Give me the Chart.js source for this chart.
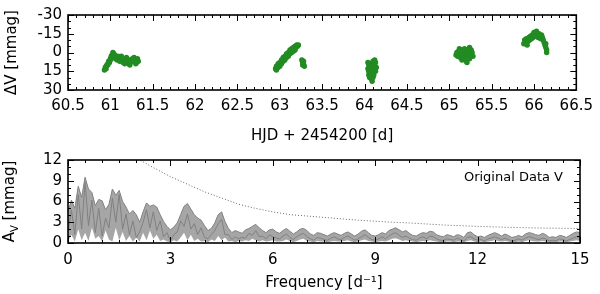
<!DOCTYPE html>
<html>
<head>
<meta charset="utf-8">
<script src="https://cdn.jsdelivr.net/npm/chart.js@4/dist/chart.umd.min.js"></script>
<style>
  body { margin: 0; background: #fff; }
  canvas { display: block; }
</style>
</head>
<body>
<canvas id="lightCurve" width="600" height="145"></canvas>
<canvas id="spectrum" width="600" height="149"></canvas>
<script>
// light curve, one pair of arrays per night (HJD - 2454200, dV in mmag)
const night1Hjd = [60.93,60.94,60.95,60.95,60.96,60.97,60.97,60.98,60.99,61.00,61.00,61.01,61.02,61.02,61.03,61.04,61.05,61.05,61.06,61.07,61.08,61.09,61.10,61.11,61.12,61.13,61.14,61.15,61.16,61.17,61.18,61.19,61.20,61.21,61.22,61.23,61.24,61.25,61.26,61.27,61.28,61.29,61.30,61.31,61.32,61.33];
const night1Dv  = [14,12,13,11,10,9,10,7,8,5,6,3,2,4,0,1,3,2,5,4,6,3,5,7,4,3,6,8,7,9,6,4,5,7,9,10,8,6,5,7,4,6,9,8,5,7];
const night2Hjd = [62.95,62.96,62.96,62.97,62.98,62.98,62.99,63.00,63.00,63.01,63.02,63.02,63.03,63.04,63.04,63.05,63.06,63.06,63.07,63.08,63.08,63.09,63.10,63.10,63.11,63.12,63.12,63.13,63.14,63.14,63.15,63.16,63.16,63.17,63.18,63.18,63.19,63.20,63.21,63.22,63.26,63.27,63.27,63.28,63.28,63.29];
const night2Dv  = [13,11,14,12,9,12,10,8,11,9,6,9,7,4,7,5,3,6,4,1,4,2,0,3,1,-2,1,-1,-3,0,-2,-4,-1,-3,-5,-2,-4,-6,-5,-6,6,8,10,7,9,11];
const night3Hjd = [64.04,64.04,64.05,64.05,64.05,64.06,64.06,64.06,64.07,64.07,64.08,64.08,64.08,64.09,64.09,64.10,64.10,64.10,64.11,64.11,64.12,64.12,64.13,64.13,64.14];
const night3Dv  = [8,13,10,15,18,12,17,20,9,19,14,21,17,11,23,16,7,20,13,18,10,6,15,8,12];
const night4Hjd = [65.08,65.09,65.10,65.11,65.12,65.12,65.13,65.14,65.15,65.15,65.16,65.17,65.18,65.18,65.19,65.20,65.20,65.21,65.21,65.22,65.23,65.24,65.24,65.25,65.26,65.27,65.28];
const night4Dv  = [2,0,3,-1,1,-3,4,-2,2,6,5,0,-3,-1,3,7,-2,1,8,-1,4,-4,5,2,-2,0,3];
const night5Hjd = [65.88,65.89,65.90,65.91,65.92,65.93,65.94,65.95,65.96,65.97,65.98,65.99,66.00,66.01,66.02,66.03,66.04,66.05,66.06,66.07,66.08,66.09,66.10,66.11,66.12,66.13,66.14,66.14,66.15,66.15];
const night5Dv  = [-7,-10,-8,-11,-6,-9,-12,-10,-13,-11,-14,-12,-16,-13,-15,-17,-14,-12,-15,-13,-11,-14,-12,-10,-8,-6,-4,-7,-2,0];

// amplitude spectrum, sampled every 0.1 d^-1 from 0 to 15
const freqStep = 0.1;
const grayHigh = [
  4.5,6.2,5.0,8.2,6.6,9.5,7.8,7.3,5.4,6.3,
  6.1,4.8,5.6,7.8,6.9,7.6,6.0,5.2,4.2,4.7,
  4.1,3.0,4.5,5.8,5.3,5.5,5.2,4.1,3.1,2.4,
  1.9,2.3,2.9,4.1,5.3,5.7,4.9,4.1,3.6,3.3,
  2.5,1.8,2.1,2.9,4.1,4.5,3.1,2.1,1.5,1.8,
  1.6,1.4,1.9,2.1,2.4,2.7,2.2,1.8,1.5,1.9,
  2.0,1.6,1.4,1.8,2.1,1.7,1.3,1.6,2.0,2.1,
  1.8,1.3,1.1,1.5,1.4,1.2,1.0,1.3,1.5,1.3,
  1.1,1.4,1.6,1.3,1.0,1.3,1.7,1.9,1.5,1.1,
  1.0,1.2,1.5,1.3,1.8,2.0,2.2,1.9,1.6,1.8,
  1.4,1.1,1.0,1.3,1.5,1.4,1.7,1.6,1.2,1.0,
  0.9,1.2,1.1,0.9,1.2,1.1,0.8,1.5,1.6,1.2,
  0.9,1.0,0.8,1.1,1.3,1.5,1.3,1.0,1.3,1.1,
  0.8,0.9,1.1,0.9,1.3,1.5,1.4,1.2,1.1,1.4,
  1.2,0.8,0.9,0.8,1.1,1.0,0.8,1.1,1.4,1.6,
  1.5];
const grayLow = [
  0.3,1.2,0.2,2.0,0.4,1.5,0.3,2.2,0.6,1.0,
  0.2,1.8,0.5,0.2,2.2,0.4,1.6,0.3,1.0,0.2,
  0.8,0.2,1.5,0.4,1.8,0.6,1.2,0.3,0.5,0.2,
  0.1,0.4,0.2,0.8,1.5,0.4,1.2,0.3,0.6,0.2,
  0.3,0.1,0.5,0.3,1.0,0.4,0.8,0.2,0.3,0.1,
  0.3,0.2,0.4,0.3,0.6,0.4,0.2,0.4,0.2,0.3,
  0.4,0.2,0.2,0.3,0.5,0.3,0.1,0.3,0.5,0.6,
  0.3,0.2,0.1,0.3,0.2,0.2,0.1,0.2,0.3,0.2,
  0.2,0.3,0.4,0.2,0.1,0.2,0.4,0.5,0.3,0.2,
  0.1,0.2,0.3,0.2,0.4,0.6,0.7,0.5,0.3,0.4,
  0.3,0.2,0.1,0.2,0.3,0.2,0.4,0.3,0.2,0.1,
  0.1,0.2,0.2,0.1,0.2,0.2,0.1,0.3,0.4,0.2,
  0.1,0.2,0.1,0.2,0.3,0.4,0.3,0.2,0.3,0.2,
  0.1,0.1,0.2,0.1,0.3,0.4,0.3,0.2,0.2,0.3,
  0.2,0.1,0.1,0.1,0.2,0.2,0.1,0.2,0.3,0.4,
  0.3];
const blackAmp = [
  1.5,4.8,1.2,7.0,2.0,8.8,2.5,6.2,1.5,5.0,
  1.0,3.6,2.2,6.5,3.0,7.0,2.0,4.2,1.2,3.2,
  0.8,1.6,3.0,4.8,2.2,4.5,1.8,3.2,0.9,1.5,
  0.3,1.2,1.6,3.2,2.4,4.2,2.0,2.8,1.2,2.2,
  0.8,0.6,1.2,1.8,2.8,3.4,1.2,1.2,0.5,0.9,
  0.6,0.8,0.7,1.4,1.1,1.8,0.9,1.0,0.6,1.2,
  0.9,0.7,0.6,1.0,1.3,0.8,0.5,0.9,1.2,1.4,
  0.9,0.6,0.4,0.8,0.7,0.5,0.4,0.7,0.9,0.6,
  0.5,0.8,1.0,0.7,0.4,0.6,0.9,1.2,0.8,0.5,
  0.4,0.6,0.9,0.6,1.0,1.3,1.5,1.1,0.8,1.0,
  0.7,0.5,0.4,0.7,0.9,0.6,1.0,0.9,0.6,0.4,
  0.4,0.6,0.5,0.4,0.7,0.5,0.3,0.8,0.9,0.6,
  0.4,0.5,0.3,0.6,0.7,0.9,0.7,0.5,0.7,0.5,
  0.3,0.4,0.6,0.4,0.7,0.9,0.8,0.6,0.5,0.7,
  0.6,0.3,0.4,0.3,0.6,0.5,0.3,0.5,0.7,0.9,
  0.8];
// significance level (dotted)
const sigFreq = [1.9,2.0,2.5,3.0,3.5,4.0,4.5,5.0,5.5,6.0,6.5,7.0,7.5,8.0,8.5,9.0,9.5,10,11,12,13,14,15];
const sigAmp  = [12.6,12.3,10.9,9.6,8.5,7.4,6.5,5.6,5.0,4.5,4.1,3.9,3.7,3.5,3.3,3.15,3.0,2.9,2.6,2.4,2.25,2.15,2.1];

const xTicksTop = [60.5, 66.5, 0.5];   // min, max, step
const yTicksTop = [-30, 30, 15];
const xTicksBot = [0, 15, 3];
const yTicksBot = [0, 12, 3];

Chart.defaults.font.family = 'DejaVu Sans';
Chart.defaults.font.size = 15;
Chart.defaults.color = '#000';

const pairs = (xs, ys) => xs.map((x, i) => ({x: x, y: ys[i]}));
const spec = arr => arr.map((v, i) => ({x: i * freqStep, y: v}));

// black frame with inward major and minor ticks on all four sides
const frameTicks = {
  id: 'frameTicks',
  afterDatasetsDraw(chart, args, o) {
    const {ctx, chartArea: a, scales} = chart;
    ctx.save();
    ctx.strokeStyle = '#000';
    ctx.lineWidth = 1;
    const run = (sc, minor, major, horiz) => {
      const n = Math.round((sc.max - sc.min) / minor);
      for (let k = 0; k <= n; k++) {
        const v = sc.min + k * minor;
        const isMajor = Math.abs(v / major - Math.round(v / major)) < 1e-6;
        const len = isMajor ? 6 : 3;
        const p = Math.round(sc.getPixelForValue(v)) + 0.5;
        ctx.beginPath();
        if (horiz) {
          ctx.moveTo(p, a.bottom); ctx.lineTo(p, a.bottom - len);
          ctx.moveTo(p, a.top); ctx.lineTo(p, a.top + len);
        } else {
          ctx.moveTo(a.left, p); ctx.lineTo(a.left + len, p);
          ctx.moveTo(a.right, p); ctx.lineTo(a.right - len, p);
        }
        ctx.stroke();
      }
    };
    run(scales.x, o.xMinor, o.xMajor, true);
    run(scales.y, o.yMinor, o.yMajor, false);
    ctx.lineWidth = 1.6;
    ctx.strokeRect(a.left, a.top, a.right - a.left, a.bottom - a.top);
    if (o.note) {
      ctx.font = '13px "DejaVu Sans"';
      ctx.textAlign = 'right';
      ctx.textBaseline = 'middle';
      ctx.fillStyle = '#000';
      ctx.fillText(o.note, a.right - 17, a.top + 18);
    }
    if (o.subTitle) {
      const [main, sub, rest] = o.subTitle;
      ctx.translate(10.5, (a.top + a.bottom) / 2);
      ctx.rotate(-Math.PI / 2);
      ctx.textBaseline = 'middle';
      ctx.textAlign = 'left';
      ctx.fillStyle = '#000';
      ctx.font = '15px "DejaVu Sans"';
      const w1 = ctx.measureText(main).width, w3 = ctx.measureText(rest).width;
      ctx.font = '10px "DejaVu Sans"';
      const w2 = ctx.measureText(sub).width;
      let sx = -(w1 + w2 + w3) / 2;
      ctx.font = '15px "DejaVu Sans"';
      ctx.fillText(main, sx, 0);
      ctx.font = '10px "DejaVu Sans"';
      ctx.fillText(sub, sx + w1, 5);
      ctx.font = '15px "DejaVu Sans"';
      ctx.fillText(rest, sx + w1 + w2, 0);
    }
    ctx.restore();
  }
};

const linAxis = (t, tickExtra, extra) => Object.assign({
  type: 'linear', min: t[0], max: t[1],
  grid: {display: false, drawTicks: false},
  border: {display: false},
  ticks: Object.assign({stepSize: t[2], autoSkip: false, maxRotation: 0}, tickExtra)
}, extra);

new Chart(document.getElementById('lightCurve'), {
  type: 'scatter',
  data: {
    datasets: [{
      data: [].concat(pairs(night1Hjd, night1Dv), pairs(night2Hjd, night2Dv), pairs(night3Hjd, night3Dv),
                      pairs(night4Hjd, night4Dv), pairs(night5Hjd, night5Dv)),
      backgroundColor: '#228b22',
      borderWidth: 0,
      pointRadius: 2.7
    }]
  },
  options: {
    responsive: false, animation: false, devicePixelRatio: 1,
    layout: {padding: {top: 7, right: 20, left: 0, bottom: 0}},
    plugins: {legend: {display: false}, tooltip: {enabled: false},
      frameTicks: {xMinor: 0.1, xMajor: 0.5, yMinor: 5, yMajor: 15}},
    scales: {
      x: linAxis(xTicksTop, {padding: 7, callback: v => String(Math.round(v * 10) / 10)}, {
        title: {display: true, text: 'HJD + 2454200 [d]', padding: {top: 0, bottom: 0}},
        afterFit: s => { s.height = 55; }
      }),
      y: linAxis(yTicksTop, {padding: 6}, {
        reverse: true,
        title: {display: true, text: 'ΔV [mmag]', padding: {top: 3.5, bottom: 0}},
        afterFit: s => { s.width = 68; }
      })
    }
  },
  plugins: [frameTicks]
});

new Chart(document.getElementById('spectrum'), {
  type: 'scatter',
  data: {
    datasets: [
      {data: spec(grayLow), showLine: true, borderWidth: 0, borderColor: 'rgba(0,0,0,0)', pointRadius: 0, fill: false},
      {data: spec(grayHigh), showLine: true, borderWidth: 1, borderColor: '#808080', pointRadius: 0,
       fill: '-1', backgroundColor: 'rgba(150,150,150,0.85)'},
      {data: spec(blackAmp), showLine: true, borderWidth: 1, borderColor: '#000', pointRadius: 0, fill: false},
      {data: pairs(sigFreq, sigAmp), showLine: true, borderWidth: 1, borderColor: '#666',
       borderDash: [1, 2], pointRadius: 0, fill: false}
    ]
  },
  options: {
    responsive: false, animation: false, devicePixelRatio: 1,
    layout: {padding: {top: 14, right: 20, left: 0, bottom: 0}},
    plugins: {legend: {display: false}, tooltip: {enabled: false},
      frameTicks: {xMinor: 0.5, xMajor: 3, yMinor: 1, yMajor: 3,
                   note: 'Original Data V', subTitle: ['A', 'V', ' [mmag]']}},
    scales: {
      x: linAxis(xTicksBot, {padding: 8}, {
        title: {display: true, text: 'Frequency [d⁻¹]', padding: {top: 0, bottom: 2}},
        afterFit: s => { s.height = 51; }
      }),
      y: linAxis(yTicksBot, {padding: 6}, {
        afterFit: s => { s.width = 68; }
      })
    }
  },
  plugins: [frameTicks]
});
</script>
</body>
</html>
